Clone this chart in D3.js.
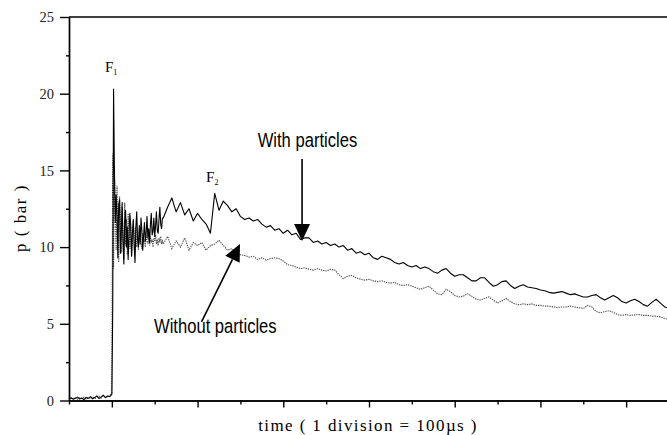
<!DOCTYPE html>
<html>
<head>
<meta charset="utf-8">
<script src="https://cdn.jsdelivr.net/npm/d3@7"></script>
<style>
  body { margin: 0; background: #fff; }
  svg { display: block; }
</style>
</head>
<body>
<div id="chart"></div>
<script>
// pressure traces (bar), sampled in three pieces: pre-trigger, ignition burst, decay
// time in microseconds, t = 0 at the first ignition F1
const segStart = [-50, 0, 60];
const segStep = [2.5, 1, 5];

const withPre = [0.12, 0.18, 0.08, 0.15, 0.22, 0.1, 0.16, 0.05, 0.2, 0.14,
  0.25, 0.11, 0.19, 0.3, 0.13, 0.22, 0.35, 0.18, 0.3, 0.25];
const withoutPre = [0.1, 0.14, 0.12, 0.2, 0.08, 0.17, 0.13, 0.21, 0.1, 0.18,
  0.15, 0.24, 0.12, 0.2, 0.28, 0.16, 0.3, 0.22, 0.25, 0.3];

const withBurst = [0.4, 6.0, 20.3, 14.8, 11.6, 13.4, 12.1, 9.3, 12.8, 13.1,
  9.6, 11.0, 12.9, 10.4, 8.9, 11.7, 12.4, 10.0, 11.3, 9.2,
  10.8, 12.2, 11.4, 9.4, 10.9, 11.8, 10.1, 9.0, 11.3, 12.3,
  10.6, 10.0, 11.4, 10.2, 11.9, 11.1, 9.8, 10.7, 11.6, 10.4,
  10.9, 12.0, 10.6, 11.2, 10.3, 11.5, 12.2, 10.8, 11.0, 11.9,
  10.7, 11.4, 12.3, 11.1, 10.9, 11.8, 12.6, 11.5, 11.2, 11.9];
const withoutBurst = [0.5, 16.1, 8.6, 15.2, 12.4, 9.8, 14.0, 10.6, 9.0, 13.3,
  11.8, 9.6, 12.6, 10.2, 9.2, 12.9, 10.1, 11.8, 9.5, 12.2,
  11.0, 9.9, 11.4, 9.4, 10.3, 11.7, 10.8, 9.7, 11.3, 10.0,
  10.8, 9.8, 11.1, 10.6, 10.2, 9.9, 10.9, 10.3, 10.5, 10.0,
  10.8, 10.4, 10.2, 10.6, 10.1, 10.7, 10.3, 10.5, 10.0, 10.6,
  10.4, 10.8, 10.2, 10.5, 10.1, 10.6, 10.3, 10.7, 10.2, 10.4];

const withDecay = [11.9, 12.6, 13.2, 12.3, 12.9, 12.1, 12.5, 11.7, 12.2, 11.8,
  11.5, 10.9, 13.5, 12.4, 13.0, 12.7, 12.3, 12.5, 12.0, 11.8,
  11.9, 11.7, 11.8, 11.5, 11.3, 11.4, 11.1, 11.2, 10.9, 11.1,
  10.8, 10.9, 10.5, 10.6, 10.6, 10.3, 10.4, 10.2, 10.3, 10.1,
  10.2, 10.0, 10.1, 9.8, 9.9, 9.6, 9.7, 9.5, 9.6, 9.3,
  9.2, 9.4, 9.3, 9.2, 9.0, 8.9, 9.0, 8.8, 8.7, 8.8,
  8.6, 8.7, 8.6, 8.4, 8.3, 8.5, 8.6, 8.3, 8.1, 8.2,
  8.2, 8.0, 7.8, 7.8, 8.0, 8.0, 7.7, 7.45, 7.55, 7.75,
  7.8, 7.5, 7.3, 7.45, 7.55, 7.4, 7.35, 7.3, 7.2, 7.15,
  7.05, 7.0, 7.05, 7.1, 7.0, 6.9, 6.95, 6.85, 6.75, 6.75,
  6.85, 6.9, 6.7, 6.55, 6.7, 6.85, 6.7, 6.45, 6.35, 6.5,
  6.6, 6.45, 6.25, 6.15, 6.4, 6.6, 6.35, 6.1, 6.0];
const withoutDecay = [10.2, 10.7, 9.9, 10.4, 10.0, 10.6, 9.8, 10.3, 10.1, 10.3,
  9.8, 10.1, 10.2, 10.45, 10.1, 9.8, 9.9, 9.6, 9.5, 9.45,
  9.35, 9.4, 9.2, 9.3, 9.15, 9.25, 9.3, 9.25, 9.1, 8.85,
  8.8, 8.7, 8.6, 8.65, 8.55, 8.5, 8.6, 8.5, 8.45, 8.55,
  8.5, 8.2, 7.95, 8.1, 8.15, 8.0, 7.9, 7.85, 7.9, 7.8,
  7.75, 7.8, 7.7, 7.65, 7.7, 7.55, 7.5, 7.55, 7.45, 7.35,
  7.25, 7.35, 7.45, 7.2, 6.95, 6.9, 7.25, 7.1, 6.85, 6.75,
  6.8, 6.95, 6.8, 6.6, 6.55, 6.65, 6.75, 6.55, 6.35, 6.5,
  6.65, 6.45, 6.3, 6.25, 6.3, 6.25, 6.3, 6.2, 6.2, 6.15,
  6.15, 6.1, 6.05, 6.1, 6.1, 6.15, 6.1, 6.05, 6.0, 6.2,
  6.1, 5.8, 5.72, 5.8, 5.85, 5.75, 5.6, 5.55, 5.6, 5.55,
  5.58, 5.6, 5.55, 5.55, 5.5, 5.5, 5.45, 5.35, 5.28];

const yMajor = [0, 5, 10, 15, 20, 25];
const yMinor = [2.5, 7.5, 12.5, 17.5, 22.5];
const xMajor = [0, 100, 200, 300, 400, 500, 600];
const xMinor = [-50, 50, 150, 250, 350, 450, 550, 650];

// turn the pieces into {t, p} points
function toPoints(pieces) {
  let pts = [];
  pieces.forEach(function(vals, k) {
    vals.forEach(function(v, i) {
      pts.push({t: segStart[k] + i * segStep[k], p: v});
    });
  });
  return pts;
}
const withData = toPoints([withPre, withBurst, withDecay]);
const withoutData = toPoints([withoutPre, withoutBurst, withoutDecay]);

const W = 667, H = 435;

const svg = d3.select("#chart").append("svg")
  .attr("width", W).attr("height", H);

const x = d3.scaleLinear().domain([-50, 650]).range([69, 669]);
const y = d3.scaleLinear().domain([0, 25]).range([400.5, 17]);

const serif = "'Liberation Serif', 'Times New Roman', serif";
const sans = "'Liberation Sans', Arial, sans-serif";

// frame (top and right)
svg.append("path")
  .attr("d", `M${x(-50)},${y(25)}H${x(650)}V${y(0)}`)
  .attr("fill", "none").attr("stroke", "#000").attr("stroke-width", 1.4);

// y axis
let yAx = svg.append("g").attr("transform", `translate(${x(-50)},0)`)
  .call(d3.axisLeft(y).tickValues(yMajor).tickSize(9).tickSizeOuter(0).tickPadding(6));
svg.append("g").attr("transform", `translate(${x(-50)},0)`)
  .call(d3.axisLeft(y).tickValues(yMinor).tickSize(3).tickSizeOuter(0).tickFormat(""));

// x axis
svg.append("g").attr("transform", `translate(0,${y(0)})`)
  .call(d3.axisBottom(x).tickValues(xMajor).tickSize(7).tickSizeOuter(0).tickFormat(""));
svg.append("g").attr("transform", `translate(0,${y(0)})`)
  .call(d3.axisBottom(x).tickValues(xMinor).tickSize(4).tickSizeOuter(0).tickFormat(""));

svg.selectAll(".domain, .tick line").attr("stroke", "#000").attr("stroke-width", 1.4);
yAx.selectAll("text")
  .style("font-family", serif).style("font-size", "14.5px").attr("fill", "#222");

// traces
let line = d3.line().x(d => x(d.t)).y(d => y(d.p));

svg.append("path").datum(withoutData)
  .attr("d", line)
  .attr("fill", "none").attr("stroke", "#4a4a4a")
  .attr("stroke-width", 1.1).attr("stroke-dasharray", "1.3,1");

svg.append("path").datum(withData)
  .attr("d", line)
  .attr("fill", "none").attr("stroke", "#000")
  .attr("stroke-width", 1.1).attr("stroke-linejoin", "round");

// axis titles
svg.append("text")
  .attr("transform", `translate(26,218) rotate(-90)`)
  .attr("text-anchor", "middle")
  .style("font-family", serif).style("font-size", "17px").style("letter-spacing", "1.5px")
  .text("p ( bar )");

svg.append("text")
  .attr("x", 368).attr("y", 431)
  .attr("text-anchor", "middle")
  .style("font-family", serif).style("font-size", "17px").style("letter-spacing", "1.4px")
  .text("time ( 1 division = 100µs )");

// F1 / F2 markers
function fLabel(t, p, sub) {
  let g = svg.append("text")
    .attr("x", x(t)).attr("y", y(p))
    .style("font-family", serif).style("font-size", "15px");
  g.append("tspan").text("F");
  g.append("tspan").attr("dy", 3).style("font-size", "8px").text(sub);
}
fLabel(-8, 21.43, "1");
fLabel(109.9, 14.26, "2");

// annotations with arrows
function note(t, p, txt) {
  svg.append("text")
    .attr("transform", `translate(${x(t)},${y(p)}) scale(1,1.22)`)
    .style("font-family", sans).style("font-size", "16.6px")
    .text(txt);
}
note(170.1, 16.52, "With particles");
note(49.2, 4.4, "Without particles");

function arrow(t0, p0, t1, p1) {
  let x0 = x(t0), y0 = y(p0), x1 = x(t1), y1 = y(p1);
  let a = Math.atan2(y1 - y0, x1 - x0), len = 17, hw = 8;
  let bx = x1 - len * Math.cos(a), by = y1 - len * Math.sin(a);
  svg.append("line")
    .attr("x1", x0).attr("y1", y0).attr("x2", bx).attr("y2", by)
    .attr("stroke", "#000").attr("stroke-width", 1.6);
  svg.append("path")
    .attr("d", `M${x1},${y1}L${bx + hw * Math.sin(a)},${by - hw * Math.cos(a)}L${bx - hw * Math.sin(a)},${by + hw * Math.cos(a)}Z`)
    .attr("fill", "#000");
}
arrow(221.9, 15.74, 221.9, 10.4);
arrow(104.6, 5.12, 149.5, 10.2);
</script>
</body>
</html>
